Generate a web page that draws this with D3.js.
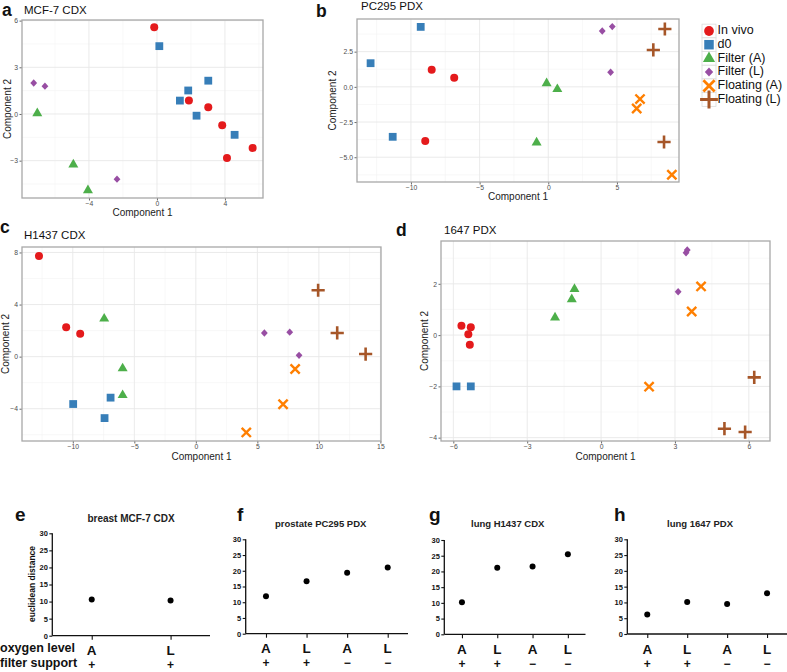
<!DOCTYPE html>
<html><head><meta charset="utf-8">
<script src="https://cdn.jsdelivr.net/npm/d3@7"></script>
<style>body{margin:0;background:#fff}svg{display:block}</style>
</head><body><svg id="chart" width="787" height="672"></svg>
<script>
// ---------- DATA ----------
const groups = ["In vivo","d0","Filter (A)","Filter (L)","Floating (A)","Floating (L)"];
const groupColors = ["#E41A1C","#377EB8","#4DAF4A","#984EA3","#FF7F00","#A65628"];
const groupShapes = ["circle","square","triangle","diamond","x","plus"];

// a: MCF-7 CDX
const aX = [-0.16,1.88,3.02,3.84,4.12,5.63, 0.14,1.84,1.35,3.02,2.33,4.57, -7.04,-4.92,-4.06, -7.25,-6.59,-2.35];
const aY = [5.57,0.86,0.43,-0.73,-2.83,-2.18, 4.36,1.51,0.86,2.14,-0.11,-1.34, 0.05,-3.24,-4.9, 1.99,1.79,-4.19];
const aG = [0,0,0,0,0,0, 1,1,1,1,1,1, 2,2,2, 3,3,3];
const aXTicks = [-4,0,4], aYTicks = [-3,0,3,6];

// b: PC295 PDX
const bX = [-8.49,-6.85,-8.96, -9.29,-12.94,-11.33, -0.12,0.66,-0.85, 3.93,4.66,4.54, 6.68,6.44,9.0, 8.49,7.65,8.43];
const bY = [1.21,0.64,-3.85, 4.26,1.68,-3.55, 0.26,-0.16,-3.95, 3.97,4.28,1.04, -0.87,-1.54,-6.24, 4.11,2.62,-3.92];
const bG = [0,0,0, 1,1,1, 2,2,2, 3,3,3, 4,4,4, 5,5,5];
const bXTicks = [-10,-5,0,5], bYTicks = [-5,-2.5,0,2.5];

// c: H1437 CDX
const cX = [-12.75,-10.54,-9.4, -9.97,-6.93,-7.42, -7.45,-5.95,-5.95, 5.57,7.63,8.39, 8.07,7.09,4.1, 9.94,11.49,13.8];
const cY = [7.72,2.26,1.75, -3.64,-3.15,-4.72, 2.92,-0.9,-2.95, 1.82,1.88,0.1, -0.95,-3.66,-5.82, 5.1,1.82,0.2];
const cG = [0,0,0, 1,1,1, 2,2,2, 3,3,3, 4,4,4, 5,5,5];
const cXTicks = [-10,-5,0,5,10,15], cYTicks = [-4,0,4,8];

// d: 1647 PDX
const dX = [-5.67,-5.29,-5.39,-5.33, -5.87,-5.29, -1.87,-1.19,-1.08, 3.13,3.45,3.5, 4.06,3.68,1.95, 6.22,5.01,5.85];
const dY = [0.36,0.31,0.03,-0.38, -2.0,-2.0, 0.69,1.4,1.8, 1.69,3.21,3.32, 1.9,0.92,-2.01, -1.65,-3.65,-3.78];
const dG = [0,0,0,0, 1,1, 2,2,2, 3,3,3, 4,4,4, 5,5,5];
const dXTicks = [-6,-3,0,3,6], dYTicks = [-4,-2,0,2];

// e-h: euclidean distances
const distTicks = [0,5,10,15,20,25,30];
const eOxygen = ["A","L"], eSupport = ["+","+"];
const eDist = [10.6, 10.3];
const fghOxygen = ["A","L","A","L"], fghSupport = ["+","+","\u2212","\u2212"];
const fDist = [11.9, 16.7, 19.4, 21.0];
const gDist = [10.2, 21.2, 21.6, 25.5];
const hDist = [6.2, 10.1, 9.5, 12.9];

// ---------- DRAW ----------
const svg = d3.select("#chart");
const FONT = "'Liberation Sans', Arial, Helvetica, sans-serif";

function shapePath(s, k) {
  const p = d3.path();
  if (s === "circle") { const r = 4*k; p.moveTo(r,0); p.arc(0,0,r,0,2*Math.PI); }
  else if (s === "square") { const h = 3.9*k; p.rect(-h,-h,2*h,2*h); }
  else if (s === "triangle") { const w = 5*k; p.moveTo(0,-5.6*k); p.lineTo(w,3*k); p.lineTo(-w,3*k); p.closePath(); }
  else if (s === "diamond") { const w = 3.4*k, h = 3.7*k; p.moveTo(0,-h); p.lineTo(w,0); p.lineTo(0,h); p.lineTo(-w,0); p.closePath(); }
  else if (s === "x") { const h = 4.6*k; p.moveTo(-h,-h); p.lineTo(h,h); p.moveTo(h,-h); p.lineTo(-h,h); }
  else if (s === "plus") { const h = 6.6*k; p.moveTo(-h,0); p.lineTo(h,0); p.moveTo(0,-h); p.lineTo(0,h); }
  return p.toString();
}
function drawMark(g, gi, k) {
  const s = groupShapes[gi], col = groupColors[gi];
  const el = g.append("path").attr("d", shapePath(s, k));
  if (s === "x" || s === "plus") el.attr("fill","none").attr("stroke",col).attr("stroke-width", (s==="x"?2.4:2.6)*Math.min(k,1.15));
  else el.attr("fill", col);
  return el;
}
function minorOf(ticks, dom) {
  const s = ticks[1]-ticks[0], out = [];
  for (let i = -3; i < ticks.length + 3; i++) {
    const v = ticks[0] + s*i + s/2;
    if (v > dom[0] && v < dom[1]) out.push(v);
  }
  return out;
}

function scatter(cfg) {
  const g = svg.append("g");
  const x = d3.scaleLinear().domain(cfg.xDom).range([cfg.left, cfg.right]);
  const y = d3.scaleLinear().domain(cfg.yDom).range([cfg.bottom, cfg.top]);
  g.selectAll(null).data(minorOf(cfg.xTicks, cfg.xDom)).join("line")
    .attr("x1", d=>x(d)).attr("x2", d=>x(d)).attr("y1", cfg.top).attr("y2", cfg.bottom)
    .attr("stroke","#f4f4f4").attr("stroke-width",0.6);
  g.selectAll(null).data(minorOf(cfg.yTicks, cfg.yDom)).join("line")
    .attr("y1", d=>y(d)).attr("y2", d=>y(d)).attr("x1", cfg.left).attr("x2", cfg.right)
    .attr("stroke","#f4f4f4").attr("stroke-width",0.6);
  g.selectAll(null).data(cfg.xTicks.filter(t=>t>=cfg.xDom[0]&&t<=cfg.xDom[1])).join("line")
    .attr("x1", d=>x(d)).attr("x2", d=>x(d)).attr("y1", cfg.top).attr("y2", cfg.bottom)
    .attr("stroke","#e8e8e8").attr("stroke-width",0.9);
  g.selectAll(null).data(cfg.yTicks).join("line")
    .attr("y1", d=>y(d)).attr("y2", d=>y(d)).attr("x1", cfg.left).attr("x2", cfg.right)
    .attr("stroke","#e8e8e8").attr("stroke-width",0.9);
  const xa = g.append("g").attr("transform",`translate(0,${cfg.bottom})`)
    .call(d3.axisBottom(x).tickValues(cfg.xTicks).tickSize(2.5).tickPadding(1).tickFormat(cfg.xFmt || d3.format("d")));
  const ya = g.append("g").attr("transform",`translate(${cfg.left},0)`)
    .call(d3.axisLeft(y).tickValues(cfg.yTicks).tickSize(2.5).tickPadding(1.5).tickFormat(cfg.yFmt || d3.format("d")));
  [xa, ya].forEach(a => {
    a.select(".domain").remove();
    a.selectAll(".tick line").attr("stroke","#444").attr("stroke-width",0.8);
    a.selectAll(".tick text").attr("fill","#4d4d4d").style("font-family",FONT).style("font-size","6.8px");
  });
  g.append("rect").attr("x",cfg.left).attr("y",cfg.top).attr("width",cfg.right-cfg.left).attr("height",cfg.bottom-cfg.top)
    .attr("fill","none").attr("stroke","#a8a8a8").attr("stroke-width",1.3);
  cfg.xs.forEach((v,i) => {
    drawMark(g, cfg.gs[i], 1).attr("transform", `translate(${x(v)},${y(cfg.ys[i])})`);
  });
  g.append("text").attr("x",(cfg.left+cfg.right)/2).attr("y",cfg.xLabY).attr("text-anchor","middle")
    .style("font-family",FONT).style("font-size","10px").attr("fill","#222").text("Component 1");
  g.append("text").attr("transform",`translate(${cfg.yLabX},${(cfg.top+cfg.bottom)/2}) rotate(-90)`).attr("text-anchor","middle")
    .attr("dominant-baseline","middle")
    .style("font-family",FONT).style("font-size","10px").attr("fill","#222").text("Component 2");
  g.append("text").attr("x",cfg.titleX).attr("y",cfg.titleY).style("font-family",FONT).style("font-size","11.5px").attr("fill","#111").text(cfg.title);
  g.append("text").attr("x",cfg.letterX).attr("y",cfg.letterY).style("font-family",FONT).style("font-size","17.5px").style("font-weight","bold").attr("fill","#111").text(cfg.letter);
}

scatter({left:22,right:263,top:20,bottom:198,xDom:[-7.94,6.24],yDom:[-5.4,6.04],xTicks:aXTicks,yTicks:aYTicks,
  xs:aX,ys:aY,gs:aG,xLabY:216,yLabX:8,title:"MCF-7 CDX",titleX:24,titleY:14,letter:"a",letterX:2,letterY:16});
scatter({left:357,right:679,top:19,bottom:182,xDom:[-13.93,9.52],yDom:[-6.76,4.82],xTicks:bXTicks,yTicks:bYTicks,
  yFmt:d3.format(".1f"),xs:bX,ys:bY,gs:bG,xLabY:200,yLabX:333,title:"PC295 PDX",titleX:361,titleY:9.5,letter:"b",letterX:316,letterY:17});
scatter({left:22,right:381,top:247,bottom:441,xDom:[-14.13,15.05],yDom:[-6.48,8.42],xTicks:cXTicks,yTicks:cYTicks,
  xs:cX,ys:cY,gs:cG,xLabY:460,yLabX:6,title:"H1437 CDX",titleX:24,titleY:239,letter:"c",letterX:0,letterY:233});
scatter({left:441,right:770,top:241,bottom:441,xDom:[-6.5,6.86],yDom:[-4.13,3.67],xTicks:dXTicks,yTicks:dYTicks,
  xs:dX,ys:dY,gs:dG,xLabY:460,yLabX:425,title:"1647 PDX",titleX:444,titleY:234,letter:"d",letterX:396,letterY:235.5});

// legend
const leg = svg.append("g");
groups.forEach((name,i) => {
  const cy = 31 + i*13.7;
  leg.append("rect").attr("x",702).attr("y",cy-6.85).attr("width",14).attr("height",13.7)
    .attr("fill","#fff").attr("stroke","#dcdcdc").attr("stroke-width",0.8);
});
groups.forEach((name,i) => {
  const cy = 31 + i*13.7;
  drawMark(leg, i, groupShapes[i]==="plus"?1.35:1.22).attr("transform",`translate(709,${cy})`);
  leg.append("text").attr("x",717.5).attr("y",cy).attr("dominant-baseline","middle")
    .style("font-family",FONT).style("font-size","12.5px").attr("fill","#111").text(name);
});

// bottom dot panels
function dotPanel(cfg) {
  const g = svg.append("g");
  const y = d3.scaleLinear().domain([0,30]).range([cfg.y0, cfg.y30]);
  const x = d3.scalePoint().domain(d3.range(cfg.vals.length)).range([cfg.axisX, cfg.endX]).padding(0.5);
  const ya = g.append("g").attr("transform",`translate(${cfg.axisX},0)`)
    .call(d3.axisLeft(y).tickValues(distTicks).tickSize(3).tickPadding(1.5));
  ya.select(".domain").attr("stroke","#111").attr("stroke-width",1.3).attr("d",`M0,${cfg.y30}V${cfg.y0}`);
  ya.selectAll(".tick line").attr("stroke","#111").attr("stroke-width",1.1);
  ya.selectAll(".tick text").attr("fill","#111").style("font-family",FONT).style("font-size","7.5px").style("font-weight","bold");
  const xa = g.append("g").attr("transform",`translate(0,${cfg.y0})`)
    .call(d3.axisBottom(x).tickSize(4).tickFormat(""));
  xa.select(".domain").attr("stroke","#111").attr("stroke-width",1.3).attr("d",`M${cfg.axisX},0H${cfg.endX}`);
  xa.selectAll(".tick line").attr("stroke","#111").attr("stroke-width",1.1);
  const oxyY = cfg.y0 + 19.5, supY = Math.min(cfg.y0 + 33.5, 669.5);
  cfg.vals.forEach((v,i) => {
    g.append("circle").attr("cx",x(i)).attr("cy",y(v)).attr("r",3).attr("fill","#000");
    g.append("text").attr("x",x(i)).attr("y",oxyY).attr("text-anchor","middle")
      .style("font-family",FONT).style("font-size","13.5px").style("font-weight","bold").attr("fill","#111").text(cfg.oxy[i]);
    g.append("text").attr("x",x(i)).attr("y",supY).attr("text-anchor","middle")
      .style("font-family",FONT).style("font-size","12px").style("font-weight","bold").attr("fill","#111").text(cfg.sup[i]);
  });
  g.append("text").attr("x",cfg.titleX).attr("y",cfg.titleY).attr("text-anchor","middle")
    .style("font-family",FONT).style("font-size",cfg.titleSize+"px").style("font-weight","bold").attr("fill","#222").text(cfg.title);
  g.append("text").attr("x",cfg.letterX).attr("y",520.7)
    .style("font-family",FONT).style("font-size","19px").style("font-weight","bold").attr("fill","#111").text(cfg.letter);
}
dotPanel({axisX:52.3,endX:210,y0:635.7,y30:533.3,vals:eDist,oxy:eOxygen,sup:eSupport,title:"breast MCF-7 CDX",titleX:131,titleY:521.5,titleSize:10,letter:"e",letterX:15});
dotPanel({axisX:245.7,endX:408,y0:633.7,y30:539.3,vals:fDist,oxy:fghOxygen,sup:fghSupport,title:"prostate PC295 PDX",titleX:320.7,titleY:527,titleSize:9.5,letter:"f",letterX:237});
dotPanel({axisX:444.3,endX:585.5,y0:634.3,y30:540,vals:gDist,oxy:fghOxygen,sup:fghSupport,title:"lung H1437 CDX",titleX:507.7,titleY:527,titleSize:9.5,letter:"g",letterX:429});
dotPanel({axisX:627.3,endX:787,y0:634,y30:539.3,vals:hDist,oxy:fghOxygen,sup:fghSupport,title:"lung 1647 PDX",titleX:700,titleY:527,titleSize:9.5,letter:"h",letterX:614});

svg.append("text").attr("x",0).attr("y",652).style("font-family",FONT).style("font-size","12.5px").style("font-weight","bold").attr("fill","#111").text("oxygen level");
svg.append("text").attr("x",0).attr("y",667).style("font-family",FONT).style("font-size","12.5px").style("font-weight","bold").attr("fill","#111").text("filter support");
svg.append("text").attr("transform","translate(33,584) rotate(-90)").attr("text-anchor","middle").attr("dominant-baseline","middle")
  .style("font-family",FONT).style("font-size","8.5px").style("font-weight","bold").attr("fill","#111").text("euclidean distance");
</script></body></html>
